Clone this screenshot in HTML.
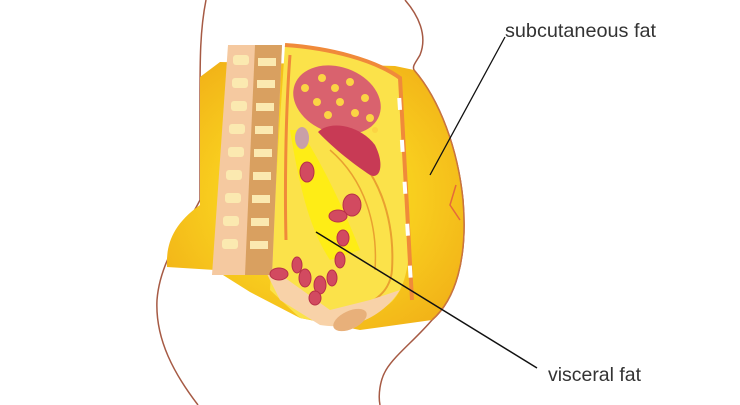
<!DOCTYPE html>
<html><head><style>
html,body{margin:0;padding:0;background:#fff;}
svg{display:block;}
text{font-family:"Liberation Sans",sans-serif;fill:#333;}
</style></head><body>
<svg width="740" height="405" viewBox="0 0 740 405" xmlns="http://www.w3.org/2000/svg">
<defs>
<radialGradient id="yg" cx="0.5" cy="0.5" r="0.6">
<stop offset="0.5" stop-color="#f9d11f"/><stop offset="1" stop-color="#f2b318"/>
</radialGradient>
</defs>
<!-- body outline -->
<path d="M206,0 C200,30 200,60 200,100 L200,200 C185,230 160,260 157,300 C155,340 175,375 198,405" fill="none" stroke="#a65a44" stroke-width="1.5"/>
<path d="M405,0 C418,15 428,35 420,55 C416,62 412,66 414,70 C440,100 458,150 463,200 C468,260 455,300 432,320 C415,340 395,355 386,370 C380,380 378,395 380,405" fill="none" stroke="#a65a44" stroke-width="1.5"/>
<!-- yellow fat -->
<path d="M200,77 L220,62 L395,66 L414,70 C440,100 458,150 463,200 C468,260 455,300 432,320 L360,330 L300,318 L250,292 L215,270 L167,267 C166,245 172,225 200,205 Z" fill="url(#yg)"/>
<path d="M414,70 C440,100 458,150 463,200 C468,260 455,300 432,320" fill="none" stroke="#c9743e" stroke-width="1.5"/>
<path d="M456,185 L450,205 L460,220" fill="none" stroke="#e56a3a" stroke-width="1.5"/>
<!-- cavity -->
<path d="M285,45 C330,48 375,60 400,78 L410,240 C408,280 400,300 380,310 L340,325 L300,318 L270,290 L278,150 Z" fill="#fbe24a"/>
<path d="M340,140 C380,170 395,220 392,270 C390,295 370,305 345,312" fill="none" stroke="#e9a030" stroke-width="2"/>
<path d="M330,150 C365,180 378,225 375,270" fill="none" stroke="#e9a030" stroke-width="1.5"/>
<path d="M285,45 C330,48 375,60 400,78 L412,300" fill="none" stroke="#f08a3a" stroke-width="4"/>
<path d="M398,78 L412,300" fill="none" stroke="#fff" stroke-width="4" stroke-dasharray="12 30" stroke-dashoffset="-20"/>
<path d="M290,55 C285,120 285,200 286,240" fill="none" stroke="#f08a3a" stroke-width="3"/>
<path d="M260,260 L330,310 L370,300 L400,290 C380,320 350,330 320,325 L280,300 Z" fill="#f8d2a8"/>
<!-- spine -->
<path d="M228,45 L282,45 L272,275 L212,275 Z" fill="#f5c9a0"/>
<path d="M255,45 L282,45 L272,275 L245,275 Z" fill="#d9a060"/>
<g fill="#fbe9b0">
<rect x="233" y="55" width="16" height="10" rx="3"/><rect x="258" y="58" width="18" height="8"/>
<rect x="232" y="78" width="16" height="10" rx="3"/><rect x="257" y="80" width="18" height="8"/>
<rect x="231" y="101" width="16" height="10" rx="3"/><rect x="256" y="103" width="18" height="8"/>
<rect x="229" y="124" width="16" height="10" rx="3"/><rect x="255" y="126" width="18" height="8"/>
<rect x="228" y="147" width="16" height="10" rx="3"/><rect x="254" y="149" width="18" height="8"/>
<rect x="226" y="170" width="16" height="10" rx="3"/><rect x="253" y="172" width="18" height="8"/>
<rect x="225" y="193" width="16" height="10" rx="3"/><rect x="252" y="195" width="18" height="8"/>
<rect x="223" y="216" width="16" height="10" rx="3"/><rect x="251" y="218" width="18" height="8"/>
<rect x="222" y="239" width="16" height="10" rx="3"/><rect x="250" y="241" width="18" height="8"/>
</g>
<path d="M290,130 C300,190 310,230 330,260 L360,250 C340,200 320,160 300,130 Z" fill="#fff200" opacity="0.7"/>
<!-- stomach -->
<ellipse cx="337" cy="100" rx="45" ry="33" transform="rotate(20 337 100)" fill="#d9626e"/>
<path d="M318,132 C330,120 360,125 375,145 C385,165 380,180 370,175 C355,165 335,150 318,132 Z" fill="#c83a55"/>
<g fill="#fbd444">
<circle cx="305" cy="88" r="4"/><circle cx="322" cy="78" r="4"/><circle cx="335" cy="88" r="4"/><circle cx="350" cy="82" r="4"/><circle cx="365" cy="98" r="4"/><circle cx="340" cy="102" r="4"/><circle cx="355" cy="113" r="4"/><circle cx="370" cy="118" r="4"/><circle cx="317" cy="102" r="4"/><circle cx="328" cy="115" r="4"/><circle cx="375" cy="130" r="3"/>
</g>
<ellipse cx="302" cy="138" rx="7" ry="11" fill="#c9a0a8"/>
<g fill="#d24a60" stroke="#b83048" stroke-width="1">
<ellipse cx="307" cy="172" rx="7" ry="10"/><ellipse cx="352" cy="205" rx="9" ry="11"/>
<ellipse cx="338" cy="216" rx="9" ry="6"/><ellipse cx="343" cy="238" rx="6" ry="8"/>
<ellipse cx="340" cy="260" rx="5" ry="8"/><ellipse cx="279" cy="274" rx="9" ry="6"/>
<ellipse cx="297" cy="265" rx="5" ry="8"/><ellipse cx="305" cy="278" rx="6" ry="9"/>
<ellipse cx="320" cy="285" rx="6" ry="9"/><ellipse cx="332" cy="278" rx="5" ry="8"/>
<ellipse cx="315" cy="298" rx="6" ry="7"/>
</g>
<ellipse cx="350" cy="320" rx="18" ry="9" transform="rotate(-25 350 320)" fill="#e8b07a"/>
<line x1="505" y1="37" x2="430" y2="175" stroke="#111" stroke-width="1.3"/>
<line x1="316" y1="232" x2="537" y2="368" stroke="#111" stroke-width="1.5"/>
<text x="505" y="37" font-size="19.5" textLength="151" lengthAdjust="spacingAndGlyphs">subcutaneous fat</text>
<text x="548" y="381" font-size="19.5" textLength="93" lengthAdjust="spacingAndGlyphs">visceral fat</text>
</svg>
</body></html>
